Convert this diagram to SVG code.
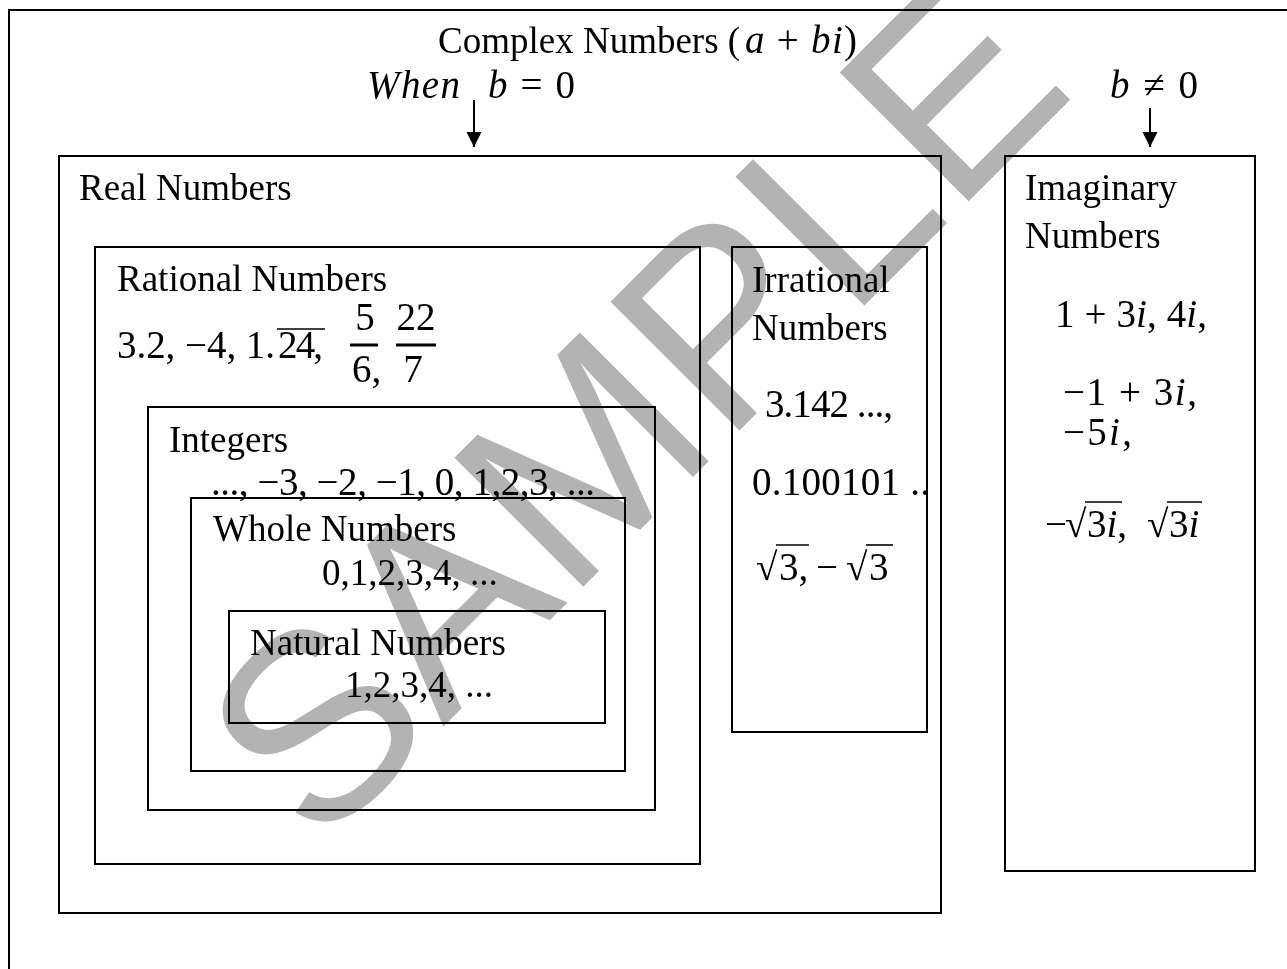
<svg xmlns="http://www.w3.org/2000/svg" width="1287" height="969" viewBox="0 0 1287 969">
<defs>
<style>
.box{fill:none;stroke:#000;stroke-width:2}
.t{font-family:"Liberation Serif","Times New Roman",serif;font-size:37px;fill:#000}
.m{font-family:"Liberation Serif","Times New Roman",serif;font-size:39px;fill:#000}
.i{font-style:italic}
.ln{stroke:#000;stroke-width:2;fill:none}
.ol{stroke:#000;stroke-width:1.6}
.wm{font-family:"Liberation Sans",Arial,sans-serif;font-size:265px;fill:#b3b3b3;mix-blend-mode:multiply}
</style>
<marker id="ah" markerWidth="16" markerHeight="16" viewBox="0 0 16 16" refX="15" refY="8" orient="auto" markerUnits="userSpaceOnUse">
<path d="M0,0.5 L15,8 L0,15.5 z" fill="#000"/>
</marker>
</defs>
<rect width="1287" height="969" fill="#fff"/>
<path class="ln" d="M9,969 V10 H1287"/>

<g id="complex">
<text class="t" x="438" y="53">Complex Numbers (</text>
<text class="m" x="745" y="53" textLength="112" lengthAdjust="spacing"><tspan class="i">a</tspan> + <tspan class="i">bi</tspan>)</text>
<text class="m i" x="367" y="98" textLength="93" lengthAdjust="spacing">When</text>
<text class="m" x="488" y="98" textLength="87" lengthAdjust="spacing"><tspan class="i">b</tspan> = 0</text>
<text class="m" x="1110" y="98" textLength="88" lengthAdjust="spacing"><tspan class="i">b</tspan> ≠ 0</text>
</g>

<g id="connectors">
<line class="ln" x1="474" y1="100" x2="474" y2="147" marker-end="url(#ah)"/>
<line class="ln" x1="1150" y1="108" x2="1150" y2="147" marker-end="url(#ah)"/>
</g>

<g id="real">
<rect class="box" x="59" y="156" width="882" height="757"/>
<text class="t" x="79" y="200">Real Numbers</text>
</g>

<g id="rational">
<rect class="box" x="95" y="247" width="605" height="617"/>
<text class="t" x="117" y="291">Rational Numbers</text>
<text class="m" x="117" y="358" textLength="158" lengthAdjust="spacing">3.2, −4, 1.</text>
<text class="m" x="278" y="358" textLength="45" lengthAdjust="spacing">24,</text>
<line class="ol" x1="277" y1="329" x2="325" y2="329"/>
<text class="m" x="365" y="330" text-anchor="middle">5</text>
<rect x="350" y="343.5" width="28" height="3" fill="#000"/>
<text class="m" x="352" y="382">6,</text>
<text class="m" x="416" y="330" text-anchor="middle">22</text>
<rect x="396" y="343.5" width="40" height="3" fill="#000"/>
<text class="m" x="413" y="382" text-anchor="middle">7</text>
</g>

<g id="integers">
<rect class="box" x="148" y="407" width="507" height="403"/>
<text class="t" x="169" y="452">Integers</text>
<text class="m" x="211" y="495" textLength="384" lengthAdjust="spacing">..., −3, −2, −1, 0, 1,2,3, ...</text>
</g>

<g id="whole">
<rect class="box" x="191" y="498" width="434" height="273"/>
<text class="t" x="213" y="541">Whole Numbers</text>
<text class="t" x="322" y="585">0,1,2,3,4, ...</text>
</g>

<g id="natural">
<rect class="box" x="229" y="611" width="376" height="112"/>
<text class="t" x="250" y="655">Natural Numbers</text>
<text class="t" x="345" y="697">1,2,3,4, ...</text>
</g>

<g id="irrational">
<rect class="box" x="732" y="247" width="195" height="485"/>
<text class="t" x="752" y="292">Irrational</text>
<text class="t" x="752" y="340">Numbers</text>
<text class="m" x="765" y="417" textLength="128" lengthAdjust="spacing">3.142 ...,</text>
<text class="m" x="752" y="495" textLength="178" lengthAdjust="spacing">0.100101 ..</text>
<text class="m" x="756" y="580">√</text>
<line class="ol" x1="776" y1="545" x2="809" y2="545"/>
<text class="m" x="779" y="580">3,</text>
<text class="m" x="816" y="580">−</text>
<text class="m" x="846" y="580">√</text>
<line class="ol" x1="866" y1="545" x2="893" y2="545"/>
<text class="m" x="869" y="580">3</text>
</g>

<g id="imaginary">
<rect class="box" x="1005" y="156" width="250" height="715"/>
<text class="t" x="1025" y="200">Imaginary</text>
<text class="t" x="1025" y="248">Numbers</text>
<text class="m" x="1055" y="327" textLength="152" lengthAdjust="spacing">1 + 3<tspan class="i">i</tspan>, 4<tspan class="i">i</tspan>,</text>
<text class="m" x="1063" y="405" textLength="134" lengthAdjust="spacing">−1 + 3<tspan class="i">i</tspan>,</text>
<text class="m" x="1063" y="445" textLength="69" lengthAdjust="spacing">−5<tspan class="i">i</tspan>,</text>
<text class="m" x="1045" y="537">−</text>
<text class="m" x="1065" y="537">√</text>
<line class="ol" x1="1085" y1="502" x2="1122" y2="502"/>
<text class="m" x="1087" y="537">3<tspan class="i">i</tspan>,</text>
<text class="m" x="1147" y="537">√</text>
<line class="ol" x1="1167" y1="502" x2="1202" y2="502"/>
<text class="m" x="1169" y="537">3<tspan class="i">i</tspan></text>
</g>

<text class="wm" x="318" y="852" transform="rotate(-45 318 852)">SAMPLE</text>
</svg>
